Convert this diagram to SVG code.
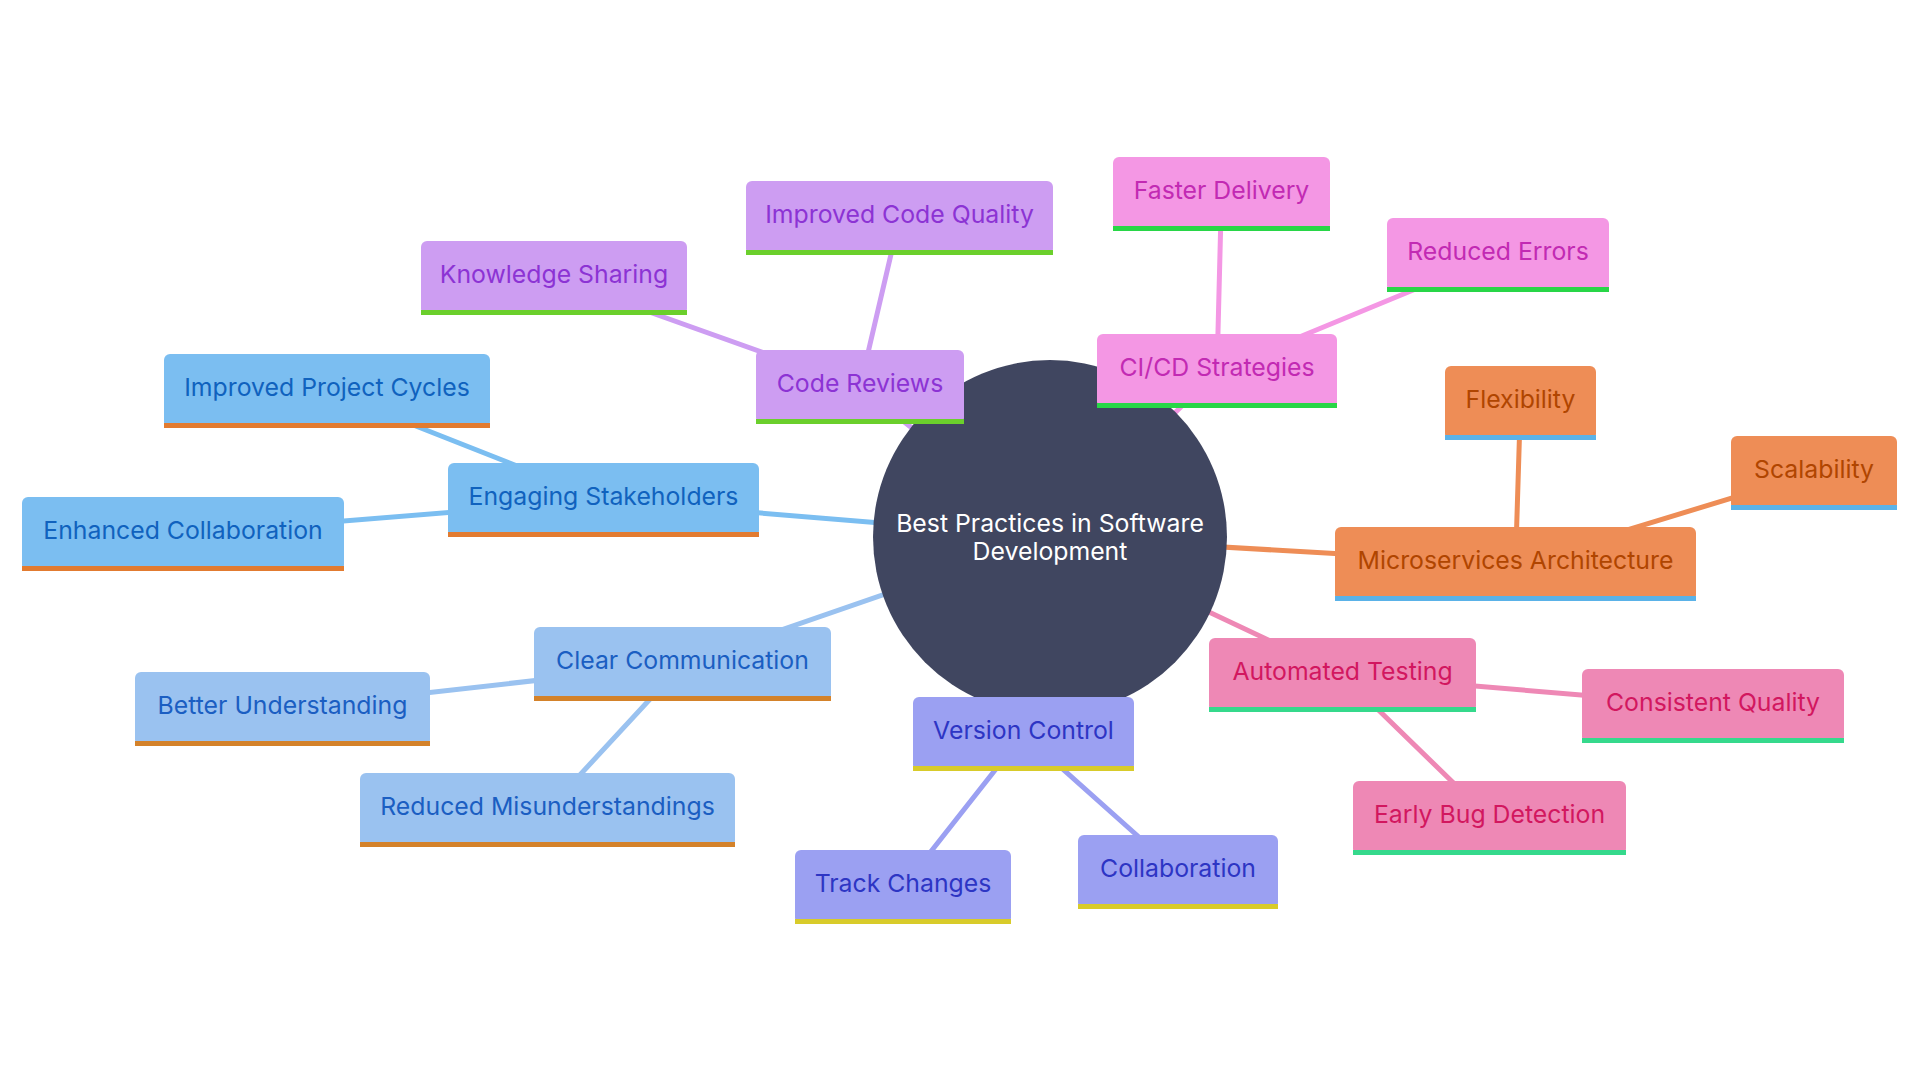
<svg xmlns="http://www.w3.org/2000/svg" width="1920" height="1080" viewBox="0 0 1920 1080">
<style>
text{font-family:Inter,"Open Sans","Liberation Sans",sans-serif;font-size:24.8px;text-anchor:middle;dominant-baseline:central}
.ln{stroke-width:5;fill:none;stroke-linecap:round}
.a .bg{fill:#7BBEF1}.a text{fill:#1062BE}.a .bd{fill:#E27B30}.la{stroke:#7BBEF1}
.b .bg{fill:#9AC2F0}.b text{fill:#1B5EC2}.b .bd{fill:#D4822A}.lb{stroke:#9AC2F0}
.c .bg{fill:#CD9DF2}.c text{fill:#8C33D4}.c .bd{fill:#6BCF2C}.lc{stroke:#CD9DF2}
.d .bg{fill:#F497E4}.d text{fill:#C22AB3}.d .bd{fill:#28D647}.ld{stroke:#F497E4}
.e .bg{fill:#EE8D56}.e text{fill:#B04500}.e .bd{fill:#5AB2E8}.le{stroke:#EE8D56}
.f .bg{fill:#EE88B5}.f text{fill:#D2175F}.f .bd{fill:#35D98C}.lf{stroke:#EE88B5}
.g .bg{fill:#9BA0F2}.g text{fill:#2D35C4}.g .bd{fill:#D8CB2A}.lg{stroke:#9BA0F2}
</style>
<rect width="1920" height="1080" fill="#ffffff"/>
<g id="connectors">
<line class="ln la" x1="1050" y1="537" x2="603.5" y2="500"/>
<line class="ln la" x1="603.5" y1="500" x2="327" y2="391"/>
<line class="ln la" x1="603.5" y1="500" x2="183" y2="534"/>
<line class="ln lb" x1="1050" y1="537" x2="682.5" y2="664"/>
<line class="ln lb" x1="682.5" y1="664" x2="282.5" y2="709"/>
<line class="ln lb" x1="682.5" y1="664" x2="547.5" y2="810"/>
<line class="ln lc" x1="1050" y1="537" x2="860" y2="387"/>
<line class="ln lc" x1="860" y1="387" x2="554" y2="278"/>
<line class="ln lc" x1="860" y1="387" x2="899.5" y2="218"/>
<line class="ln ld" x1="1050" y1="537" x2="1217" y2="371"/>
<line class="ln ld" x1="1217" y1="371" x2="1221.5" y2="194"/>
<line class="ln ld" x1="1217" y1="371" x2="1498" y2="255"/>
<line class="ln le" x1="1050" y1="537" x2="1515.5" y2="564"/>
<line class="ln le" x1="1515.5" y1="564" x2="1520.5" y2="403"/>
<line class="ln le" x1="1515.5" y1="564" x2="1814" y2="473"/>
<line class="ln lf" x1="1050" y1="537" x2="1342.5" y2="675"/>
<line class="ln lf" x1="1342.5" y1="675" x2="1713" y2="706"/>
<line class="ln lf" x1="1342.5" y1="675" x2="1489.5" y2="818"/>
<line class="ln lg" x1="1050" y1="537" x2="1023.5" y2="734"/>
<line class="ln lg" x1="1023.5" y1="734" x2="903" y2="887"/>
<line class="ln lg" x1="1023.5" y1="734" x2="1178" y2="872"/>
</g>
<g id="root">
<circle cx="1050" cy="537" r="177" fill="#404660"/>
<text x="1050" y="523" fill="#ffffff">Best Practices in Software</text>
<text x="1050" y="551" fill="#ffffff">Development</text>
</g>
<g id="n-engaging" class="a"><rect class="bg" x="448" y="463" width="311" height="74" rx="6"/><rect class="bd" x="448" y="532" width="311" height="5"/><text x="603.5" y="496">Engaging Stakeholders</text></g>
<g id="n-ipc" class="a"><rect class="bg" x="164" y="354" width="326" height="74" rx="6"/><rect class="bd" x="164" y="423" width="326" height="5"/><text x="327" y="387">Improved Project Cycles</text></g>
<g id="n-ec" class="a"><rect class="bg" x="22" y="497" width="322" height="74" rx="6"/><rect class="bd" x="22" y="566" width="322" height="5"/><text x="183" y="530">Enhanced Collaboration</text></g>
<g id="n-cc" class="b"><rect class="bg" x="534" y="627" width="297" height="74" rx="6"/><rect class="bd" x="534" y="696" width="297" height="5"/><text x="682.5" y="660">Clear Communication</text></g>
<g id="n-bu" class="b"><rect class="bg" x="135" y="672" width="295" height="74" rx="6"/><rect class="bd" x="135" y="741" width="295" height="5"/><text x="282.5" y="705">Better Understanding</text></g>
<g id="n-rm" class="b"><rect class="bg" x="360" y="773" width="375" height="74" rx="6"/><rect class="bd" x="360" y="842" width="375" height="5"/><text x="547.5" y="806">Reduced Misunderstandings</text></g>
<g id="n-cr" class="c"><rect class="bg" x="756" y="350" width="208" height="74" rx="6"/><rect class="bd" x="756" y="419" width="208" height="5"/><text x="860" y="383">Code Reviews</text></g>
<g id="n-ks" class="c"><rect class="bg" x="421" y="241" width="266" height="74" rx="6"/><rect class="bd" x="421" y="310" width="266" height="5"/><text x="554" y="274">Knowledge Sharing</text></g>
<g id="n-icq" class="c"><rect class="bg" x="746" y="181" width="307" height="74" rx="6"/><rect class="bd" x="746" y="250" width="307" height="5"/><text x="899.5" y="214">Improved Code Quality</text></g>
<g id="n-cicd" class="d"><rect class="bg" x="1097" y="334" width="240" height="74" rx="6"/><rect class="bd" x="1097" y="403" width="240" height="5"/><text x="1217" y="367">CI/CD Strategies</text></g>
<g id="n-fd" class="d"><rect class="bg" x="1113" y="157" width="217" height="74" rx="6"/><rect class="bd" x="1113" y="226" width="217" height="5"/><text x="1221.5" y="190">Faster Delivery</text></g>
<g id="n-re" class="d"><rect class="bg" x="1387" y="218" width="222" height="74" rx="6"/><rect class="bd" x="1387" y="287" width="222" height="5"/><text x="1498" y="251">Reduced Errors</text></g>
<g id="n-ma" class="e"><rect class="bg" x="1335" y="527" width="361" height="74" rx="6"/><rect class="bd" x="1335" y="596" width="361" height="5"/><text x="1515.5" y="560">Microservices Architecture</text></g>
<g id="n-flex" class="e"><rect class="bg" x="1445" y="366" width="151" height="74" rx="6"/><rect class="bd" x="1445" y="435" width="151" height="5"/><text x="1520.5" y="399">Flexibility</text></g>
<g id="n-scal" class="e"><rect class="bg" x="1731" y="436" width="166" height="74" rx="6"/><rect class="bd" x="1731" y="505" width="166" height="5"/><text x="1814" y="469">Scalability</text></g>
<g id="n-at" class="f"><rect class="bg" x="1209" y="638" width="267" height="74" rx="6"/><rect class="bd" x="1209" y="707" width="267" height="5"/><text x="1342.5" y="671">Automated Testing</text></g>
<g id="n-cq" class="f"><rect class="bg" x="1582" y="669" width="262" height="74" rx="6"/><rect class="bd" x="1582" y="738" width="262" height="5"/><text x="1713" y="702">Consistent Quality</text></g>
<g id="n-ebd" class="f"><rect class="bg" x="1353" y="781" width="273" height="74" rx="6"/><rect class="bd" x="1353" y="850" width="273" height="5"/><text x="1489.5" y="814">Early Bug Detection</text></g>
<g id="n-vc" class="g"><rect class="bg" x="913" y="697" width="221" height="74" rx="6"/><rect class="bd" x="913" y="766" width="221" height="5"/><text x="1023.5" y="730">Version Control</text></g>
<g id="n-tc" class="g"><rect class="bg" x="795" y="850" width="216" height="74" rx="6"/><rect class="bd" x="795" y="919" width="216" height="5"/><text x="903" y="883">Track Changes</text></g>
<g id="n-col" class="g"><rect class="bg" x="1078" y="835" width="200" height="74" rx="6"/><rect class="bd" x="1078" y="904" width="200" height="5"/><text x="1178" y="868">Collaboration</text></g>
</svg>
